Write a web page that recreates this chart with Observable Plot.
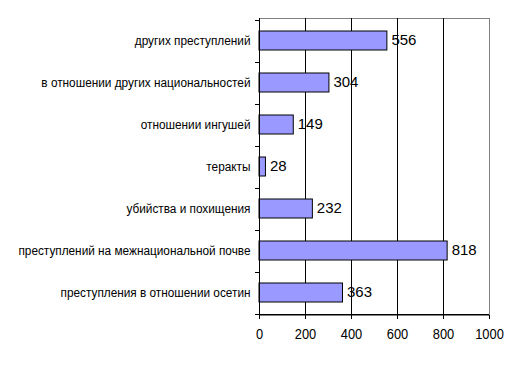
<!DOCTYPE html>
<html>
<head>
<meta charset="utf-8">
<script src="https://cdn.jsdelivr.net/npm/d3@7"></script>
<script src="https://cdn.jsdelivr.net/npm/@observablehq/plot@0.6"></script>
<style>
  html, body { margin: 0; padding: 0; background: #fff; }
  #chart svg { display: block; }
</style>
</head>
<body>
<div id="chart"></div>
<script>
const categories = [
  "других преступлений",
  "в отношении других национальностей",
  "отношении ингушей",
  "теракты",
  "убийства и похищения",
  "преступлений на межнациональной почве",
  "преступления в отношении осетин"
];
const values = [556, 304, 149, 28, 232, 818, 363];
const xTicks = [0, 200, 400, 600, 800, 1000];
const gridTicks = [200, 400, 600, 800];

const data = categories.map((c, i) => ({category: c, value: values[i]}));

const plot = Plot.plot({
  width: 522,
  height: 371,
  marginLeft: 259,
  marginRight: 33,
  marginTop: 18,
  marginBottom: 56,
  style: {fontFamily: "Arial, 'Liberation Sans', sans-serif", background: "#fff", color: "#000"},
  x: {domain: [0, 1000], ticks: xTicks, label: null},
  y: {domain: categories, paddingInner: 0.55, paddingOuter: 0.275, label: null},
  marks: [
    Plot.frame({stroke: "#808080"}),
    Plot.ruleX(gridTicks, {stroke: "#000", strokeWidth: 1}),
    Plot.barX(data, {x: "value", y: "category", fill: "#9999ff", stroke: "#000", strokeWidth: 1}),
    Plot.text(data, {x: "value", y: "category", text: d => String(d.value), textAnchor: "start", dx: 4, dy: -1, fontSize: 15, fill: "#000", ariaLabel: "value-labels"}),
    Plot.ruleX([0], {stroke: "#000"}),
    Plot.axisX({ticks: xTicks, tickSize: 4, tickPadding: 9, fontSize: 15, label: null, tickFormat: d => String(d)}),
    Plot.axisY({tickSize: 0, tickPadding: 9, fontSize: 13.5, label: null})
  ]
});

// Category boundary ticks and bottom axis line, positioned via the scales
const ys = plot.scale("y");
const xs = plot.scale("x");
const gap = (ys.step - ys.bandwidth) / 2;
const bounds = categories.map(c => ys.apply(c) - gap);
bounds.push(ys.apply(categories[categories.length - 1]) + ys.bandwidth + gap);
const x0 = xs.apply(0);
const x1 = xs.apply(1000);
const yBottom = ys.range[1];
const svg = d3.select(plot);
svg.append("line")
  .attr("x1", x0).attr("x2", x1)
  .attr("y1", yBottom - 0.5).attr("y2", yBottom - 0.5)
  .attr("stroke", "#000");
svg.append("g").selectAll("line").data(bounds).join("line")
  .attr("x1", x0 - 4).attr("x2", x0)
  .attr("y1", d => Math.round(d) + 0.5).attr("y2", d => Math.round(d) + 0.5)
  .attr("stroke", "#000");

// Horizontally condense text around its anchor (mimics the narrow original rendering)
function condense(sel, s) {
  sel.each(function() {
    const t = d3.select(this);
    const xa = t.attr("x");
    const x = (xa && /^-?[\d.]+$/.test(xa)) ? +xa : 0;
    const tr = t.attr("transform") || "";
    t.attr("transform", `${tr} translate(${x},0) scale(${s},1) translate(${-x},0)`.trim());
  });
}
condense(svg.selectAll("[aria-label='y-axis tick label'] text"), 0.875);
condense(svg.selectAll("[aria-label='x-axis tick label'] text"), 0.86);
condense(svg.selectAll("[aria-label='value-labels'] text"), 0.86);

document.getElementById("chart").appendChild(plot);
</script>
</body>
</html>
